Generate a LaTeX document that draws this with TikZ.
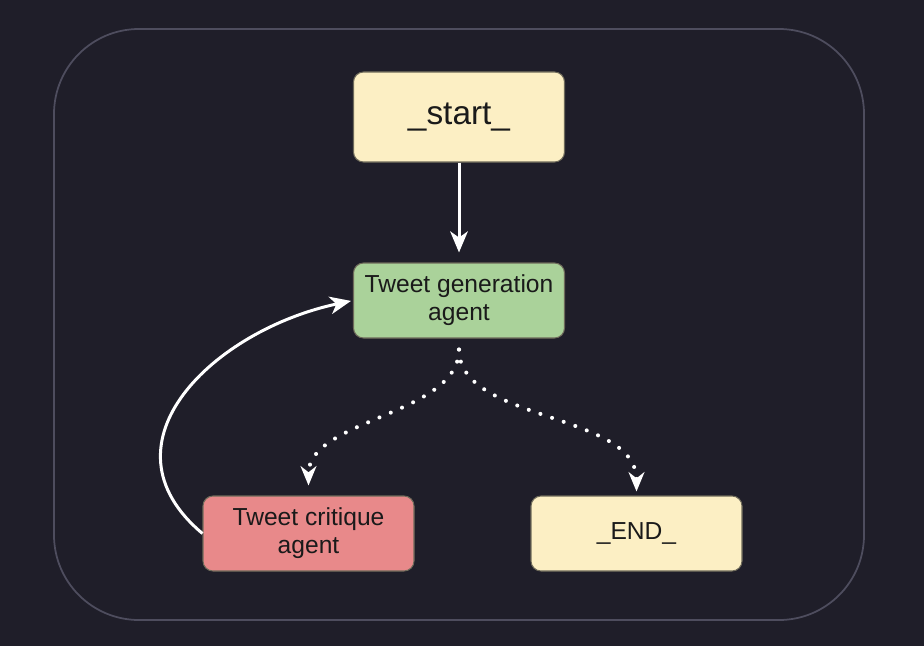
\documentclass[tikz,border=0pt]{standalone}
\usepackage{fontspec}
\setmainfont{Liberation Sans}
\usetikzlibrary{arrows.meta}

\definecolor{bgdark}{HTML}{1F1E29}
\definecolor{framegray}{HTML}{4E4D5E}
\definecolor{cream}{HTML}{FCEFC4}
\definecolor{sage}{HTML}{AAD29A}
\definecolor{rose}{HTML}{E8898A}
\definecolor{boxline}{HTML}{6E6A5A}
\definecolor{boxtext}{HTML}{1A1A1A}

\begin{document}
\begin{tikzpicture}[
    box/.style={draw=boxline, line width=0.6pt, rounded corners=0.2cm, minimum width=4.22cm,
        minimum height=1.5cm, align=center, text=boxtext, font=\fontsize{14}{16}\selectfont},
    solidarrow/.style={draw=white, line width=1.7pt, -{Stealth[length=12pt,width=10pt,inset=3.5pt]}},
    dotarrow/.style={draw=white, line width=2.3pt, line cap=round, dash pattern=on 0pt off 7pt,
        -{Stealth[length=11pt,width=9pt,inset=3.5pt]}}
]
            \fill[bgdark] (0,0) rectangle (18.48,12.92);
            \useasboundingbox (0,0) rectangle (18.48,12.92);
            \draw[framegray, line width=1pt, rounded corners=1.7cm] (1.08,0.52) rectangle (17.28,12.34);

            \node[box, fill=cream, minimum height=1.8cm, font=\fontsize{19}{22}\selectfont] (start) at (9.18,10.58) {\_start\_};
            \node[box, fill=sage] (gen) at (9.18,6.91) {Tweet generation\\agent};
            \node[box, fill=rose] (crit) at (6.17,2.25) {Tweet critique\\agent};
            \node[box, fill=cream] (end) at (12.73,2.25) {\_END\_};

            \draw[solidarrow, shorten >=0.2cm] (start) -- (gen);
            \draw[dotarrow, shorten <=0.22cm, shorten >=0.2cm] (gen.south) to[out=-90, in=90, looseness=0.9] (crit.north);
            \draw[dotarrow, shorten <=0.22cm, shorten >=0.08cm] (gen.south) to[out=-90, in=90, looseness=0.9] (end.north);
            \draw[solidarrow, shorten >=0.04cm] (crit.west) to[out=140, in=192, looseness=1.3] (gen.west);
\end{tikzpicture}
\end{document}
